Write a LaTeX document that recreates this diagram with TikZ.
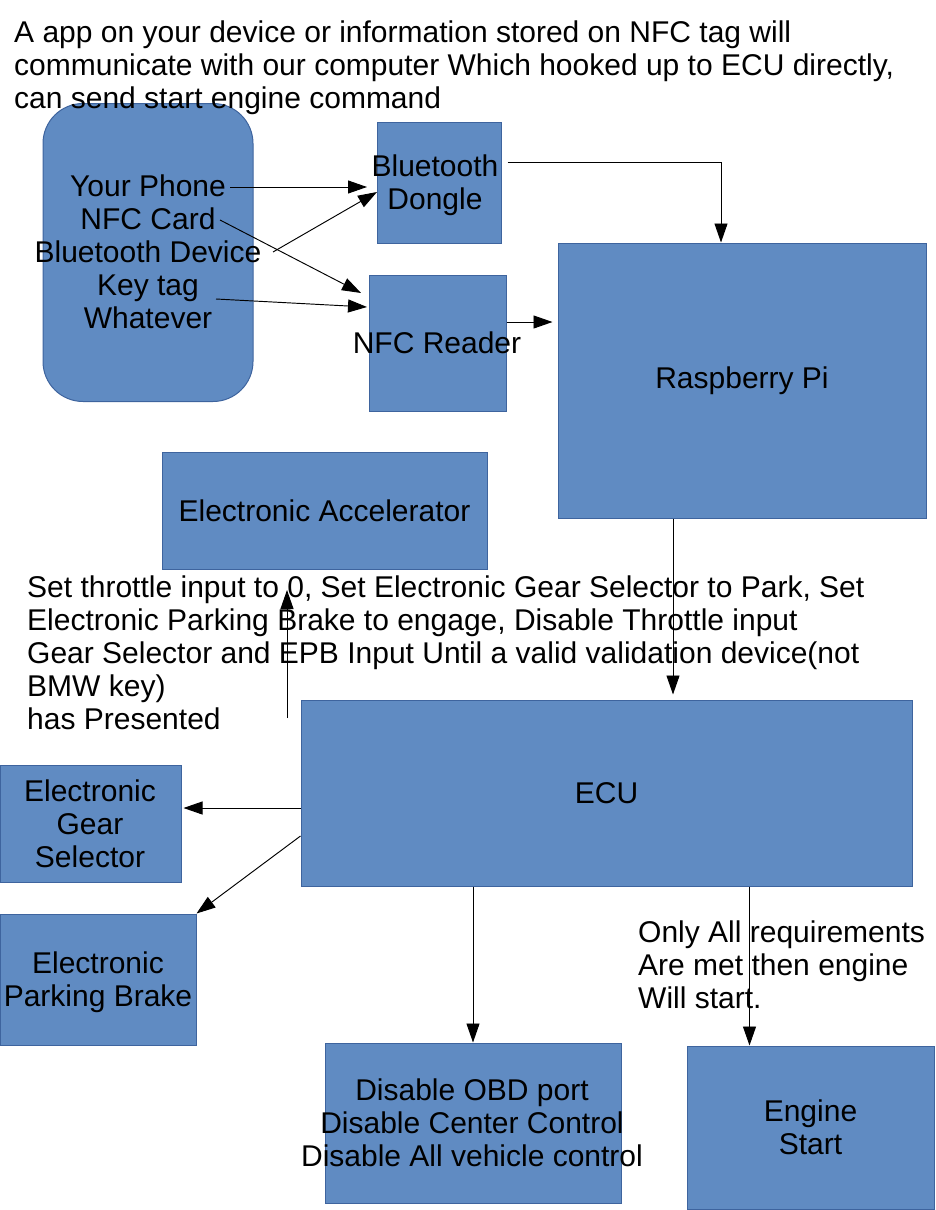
\documentclass[tikz,border=0pt]{standalone}
\usepackage{fontspec}
\setmainfont{Liberation Sans}
\usetikzlibrary{arrows.meta,calc}
\definecolor{boxfill}{RGB}{96,139,194}
\definecolor{boxline}{RGB}{62,100,158}
\begin{document}
\begin{tikzpicture}[x=1pt,y=-1pt,
  font=\fontsize{30pt}{33pt}\selectfont,
  box/.style={draw=boxline, fill=boxfill, line width=1pt, inner sep=0pt, align=center},
  txt/.style={inner sep=0pt, align=left},
  ctxt/.style={inner sep=0pt, align=center},
  arr/.style={line width=0.95pt, -{Triangle[length=19pt,width=13pt]}}]
\useasboundingbox (0,0) rectangle (935,1210);
% boxes
\node[box, rounded corners=40pt, minimum width=210pt, minimum height=298pt] (phone) at (148,252.5) {};
\node[box, minimum width=124pt, minimum height=121pt] (dongle) at (439,182.5) {};
\node[box, minimum width=137pt, minimum height=136pt] (nfc) at (437.5,343) {};
\node[box, minimum width=368pt, minimum height=275pt] (rpi) at (742,380.5) {Raspberry Pi};
\node[box, minimum width=325pt, minimum height=117pt] (acc) at (324.5,510.5) {Electronic Accelerator};
\node[box, minimum width=611pt, minimum height=186pt] (ecu) at (606.5,793) {ECU};
\node[box, minimum width=181pt, minimum height=117pt] (gear) at (90.5,823.5) {};
\node[box, minimum width=196pt, minimum height=131pt] (epb) at (98,979.5) {};
\node[box, minimum width=296pt, minimum height=160pt] (dis) at (473,1123) {};
\node[box, minimum width=247pt, minimum height=163pt] (eng) at (810.5,1127.5) {Engine\\Start};
% texts inside (overflowing) boxes
\node[ctxt] (phoneT) at (148,252) {Your Phone\\NFC Card\\Bluetooth Device\\Key tag\\Whatever};
\node[ctxt] (dongleT) at (435,185) {Bluetooth\\Dongle};
\node[ctxt] (nfcT) at (437,343) {NFC Reader};
\node[ctxt] (gearT) at (90,824) {Electronic\\Gear\\Selector};
\node[ctxt] (epbT) at (98,982) {Electronic\\Parking Brake};
\node[ctxt] (disT) at (472,1123) {Disable OBD port\\Disable Center Control\\Disable All vehicle control};
% free texts
\node[txt, anchor=north west] (head) at (14,21)
  {A app on your device or information stored on NFC tag will\\communicate with our computer Which hooked up to ECU directly,\\can send start engine command};
\node[txt, anchor=north west] (note) at (27,576)
  {Set throttle input to 0, Set Electronic Gear Selector to Park, Set\\Electronic Parking Brake to engage, Disable Throttle input\\Gear Selector and EPB Input Until a valid validation device(not\\BMW key)\\has Presented};
\node[txt, anchor=north west] (only) at (638,921)
  {Only All requirements\\Are met then engine\\Will start.};
% connector end points at the phone's text lines
\coordinate (yp) at (230,187);
\coordinate (ypE) at (367,187);
\coordinate (bd) at (273,252);
\coordinate (bdE) at (377,192);
\coordinate (nc) at (220,220);
\coordinate (ncE) at (361,293);
\coordinate (kt) at (216,299);
\coordinate (ktE) at (367,307);
\coordinate (upS) at (287,718);
\coordinate (upE) at (287,590);
% connectors
\draw[arr] (yp) -- (ypE);
\draw[arr] (bd) -- (bdE);
\draw[arr] (nc) -- (ncE);
\draw[arr] (kt) -- (ktE);
\draw[arr, shorten >=5pt] ([yshift=21pt]nfc.east) -- ([yshift=21pt]nfc.east -| rpi.west);
\draw[arr, shorten <=6pt] ([yshift=20.5pt]dongle.east) -| ([xshift=-21pt]rpi.north);
\draw[arr, shorten >=5pt] ([xshift=-69pt]rpi.south) -- ([xshift=-69pt]rpi.south |- ecu.north);
\draw[arr] (upS) -- (upE);
\draw[arr, shorten >=2pt] ([yshift=-15pt]ecu.west) -- ([yshift=-15pt]ecu.west -| gear.east);
\draw[arr] ([yshift=-43pt]ecu.west) -- (epb.north east);
\draw[arr] (dis.north |- ecu.south) -- (dis.north);
\draw[arr] ([xshift=-61pt]eng.north |- ecu.south) -- ([xshift=-61pt]eng.north);
\end{tikzpicture}
\end{document}
